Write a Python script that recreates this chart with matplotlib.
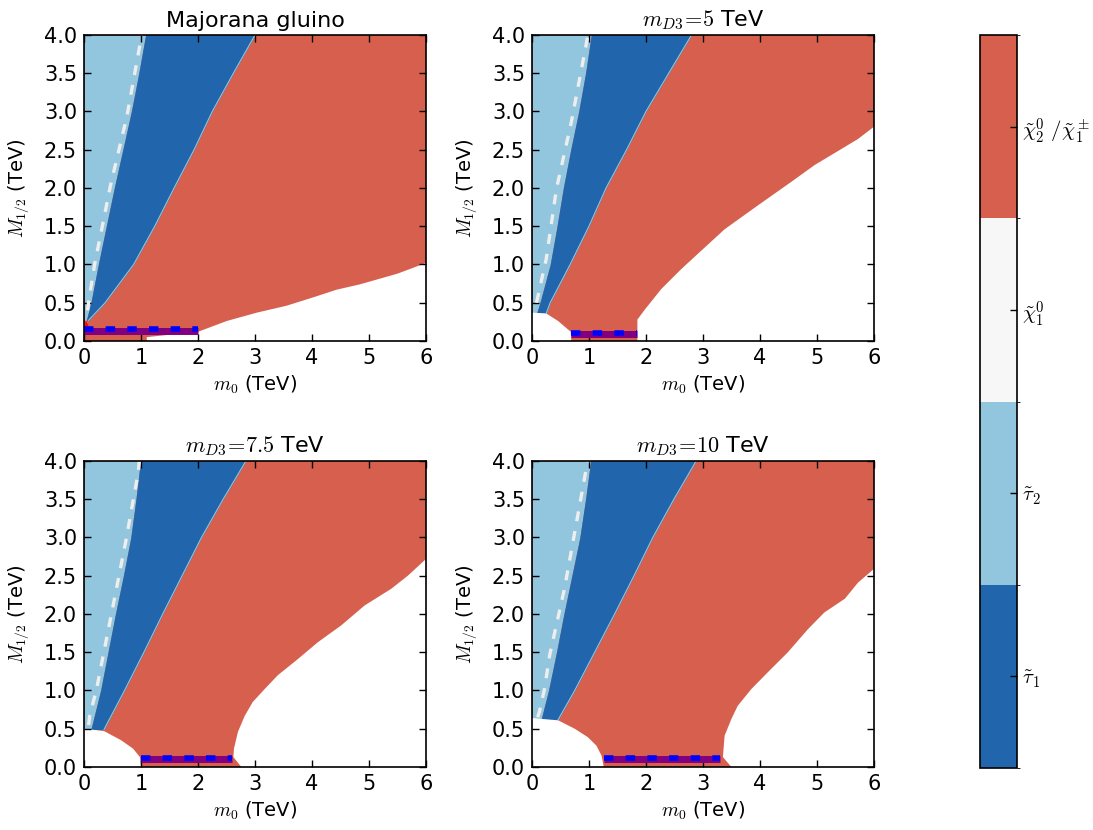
import numpy as np
import matplotlib
matplotlib.use("Agg")
import matplotlib.pyplot as plt
from matplotlib.colors import ListedColormap, BoundaryNorm
from matplotlib.cm import ScalarMappable

plt.rcParams["mathtext.fontset"] = "cm"
plt.rcParams["font.family"] = "DejaVu Sans"

# farger for LSP-kategoriene
c_red = "#d6604d"
c_white = "#f7f7f7"
c_lblue = "#92c5de"
c_dblue = "#2166ac"

titles = ["Majorana gluino", r"$m_{D3}\!=\!5$ TeV", r"$m_{D3}\!=\!7.5$ TeV", r"$m_{D3}\!=\!10$ TeV"]
cbar_labels = [r"$\tilde{\tau}_1$", r"$\tilde{\tau}_2$", r"$\tilde{\chi}_1^0$",
               r"$\tilde{\chi}_2^0\ /\tilde{\chi}_1^\pm$"]

# M_1/2 nivaaer for grensene mellom stau-omraadene (en liste per panel)
edge_y = [[0.27, 0.5, 1.0, 1.5, 2.0, 2.5, 3.0, 3.5, 4.0],
          [0.36, 0.5, 1.0, 1.5, 2.0, 2.5, 3.0, 3.5, 4.0],
          [0.49, 1.0, 1.5, 2.0, 2.5, 3.0, 3.5, 4.0],
          [0.62, 1.0, 1.5, 2.0, 2.5, 3.0, 3.5, 4.0]]
# m0 for grensen stau2 / stau1
stau_x = [[0.04, 0.12, 0.25, 0.39, 0.53, 0.68, 0.83, 0.96, 1.08],
          [0.08, 0.14, 0.32, 0.44, 0.55, 0.68, 0.82, 0.94, 1.04],
          [0.12, 0.29, 0.42, 0.55, 0.69, 0.82, 0.91, 0.99],
          [0.16, 0.29, 0.43, 0.56, 0.70, 0.84, 0.94, 1.03]]
# m0 for grensen stau1 / chi2
chi_x = [[0.08, 0.37, 0.87, 1.24, 1.58, 1.93, 2.25, 2.62, 3.0],
         [0.25, 0.32, 0.67, 1.00, 1.30, 1.66, 2.00, 2.40, 2.80],
         [0.35, 0.71, 1.05, 1.38, 1.72, 2.06, 2.44, 2.84],
         [0.46, 0.75, 1.10, 1.45, 1.79, 2.12, 2.49, 2.88]]

# hvit stiplet kontur
dash_y = [[0.40, 0.63, 1.02, 1.46, 2.02, 2.93, 3.87, 4.0],
          [0.50, 0.55, 1.07, 1.99, 2.86, 3.87, 4.0],
          [0.55, 0.67, 1.02, 2.00, 2.98, 3.85, 4.0],
          [0.65, 0.72, 1.02, 1.46, 2.33, 3.89, 4.0]]
dash_x = [[0.06, 0.105, 0.19, 0.31, 0.46, 0.75, 0.98, 1.01],
          [0.08, 0.094, 0.25, 0.43, 0.69, 0.95, 0.98],
          [0.08, 0.10, 0.22, 0.48, 0.74, 0.95, 0.97],
          [0.10, 0.13, 0.22, 0.31, 0.57, 0.95, 0.98]]

# hvitt omraade nede til venstre
ll_x = [[], [0.0, 0.25, 0.46, 0.68, 0.69],
        [0.0, 0.35, 0.65, 0.86, 0.98, 1.0],
        [0.0, 0.46, 0.75, 0.98, 1.13, 1.22, 1.26]]
ll_y = [[], [0.37, 0.36, 0.26, 0.12, 0.0],
        [0.50, 0.47, 0.35, 0.24, 0.13, 0.0],
        [0.64, 0.61, 0.50, 0.39, 0.28, 0.15, 0.0]]

# hvitt omraade nede til hoyre
lr_x = [[1.1, 1.1, 2.0, 2.5, 3.03, 3.55, 4.02, 4.43, 4.84, 5.5, 6.0],
        [1.85, 1.85, 1.98, 2.27, 2.62, 2.97, 3.38, 3.96, 4.55, 4.96, 5.43, 5.72, 6.0],
        [2.76, 2.62, 2.63, 2.70, 2.82, 2.96, 3.17, 3.40, 3.75, 4.10, 4.51, 4.92, 5.39, 5.68, 6.0],
        [3.50, 3.35, 3.38, 3.50, 3.61, 3.85, 4.14, 4.49, 4.84, 5.13, 5.49, 5.72, 6.0]]
lr_y = [[0.0, 0.05, 0.12, 0.26, 0.37, 0.46, 0.57, 0.67, 0.74, 0.88, 1.02],
        [0.0, 0.28, 0.41, 0.68, 0.94, 1.18, 1.46, 1.77, 2.08, 2.30, 2.51, 2.64, 2.80],
        [0.0, 0.13, 0.24, 0.46, 0.67, 0.85, 1.02, 1.20, 1.41, 1.63, 1.85, 2.11, 2.33, 2.50, 2.72],
        [0.0, 0.13, 0.41, 0.63, 0.80, 1.02, 1.24, 1.50, 1.80, 2.02, 2.20, 2.41, 2.59]]

# blaa stiplet linje / lilla baand
band_x0 = [0.0, 0.69, 1.0, 1.26]
band_x1 = [2.0, 1.85, 2.6, 3.3]
band_y = [0.15, 0.11, 0.12, 0.12]

# liten roed flekk i Majorana-panelet
spot_x = [0.0, 0.03, 0.12, 0.12, 0.0]
spot_y = [0.09, 0.27, 0.13, 0.08, 0.08]

rects = [[0.0769, 0.5892, 0.3129, 0.3687],
         [0.4867, 0.5892, 0.3129, 0.3687],
         [0.0769, 0.0759, 0.3129, 0.3687],
         [0.4867, 0.0759, 0.3129, 0.3687]]

fig = plt.figure(figsize=(10.93, 8.30), dpi=100)

for i in range(4):
    ax = fig.add_axes(rects[i])
    ax.set_facecolor(c_red)
    ax.fill_betweenx(edge_y[i], 0, stau_x[i], color=c_lblue, lw=0)
    ax.fill_betweenx(edge_y[i], stau_x[i], chi_x[i], color=c_dblue, lw=0)
    ax.plot(chi_x[i], edge_y[i], color=c_lblue, lw=0.8)
    ax.plot(dash_x[i], dash_y[i], color="#eeeeee", lw=2.4, dashes=(3, 3))
    if ll_x[i]:
        ax.fill([0.0] + ll_x[i], [0.0] + ll_y[i], color="white", lw=0)
    ax.fill(lr_x[i] + [6.0], lr_y[i] + [0.0], color="white", lw=0)
    if i == 0:
        ax.fill(spot_x, spot_y, color="red", lw=0)
    ax.plot([band_x0[i], band_x1[i]], [band_y[i] - 0.02] * 2, color="purple",
            lw=5, solid_capstyle="butt")
    ax.plot([band_x0[i], band_x1[i]], [band_y[i]] * 2, color="blue", lw=4,
            dashes=(1.7, 2.2))

    ax.set_xlim(0, 6)
    ax.set_ylim(0, 4)
    ax.set_xticks(np.arange(0, 7, 1))
    ax.set_yticks(np.arange(0, 4.01, 0.5))
    ax.set_yticklabels([f"{v:.1f}" for v in np.arange(0, 4.01, 0.5)])
    ax.tick_params(direction="in", top=True, right=True, length=5, width=1,
                   labelsize=15, pad=5)
    for s in ax.spines.values():
        s.set_linewidth(1.2)
    ax.set_title(titles[i], fontsize=16)
    ax.set_xlabel(r"$m_0$ (TeV)", fontsize=14)
    ax.set_ylabel(r"$M_{1/2}$ (TeV)", fontsize=14, labelpad=9)

# fargeskala
cmap = ListedColormap([c_dblue, c_lblue, c_white, c_red])
norm = BoundaryNorm([0, 1, 2, 3, 4], cmap.N)
cax = fig.add_axes([0.8966, 0.0747, 0.0339, 0.883])
cb = fig.colorbar(ScalarMappable(norm=norm, cmap=cmap), cax=cax,
                  ticks=[0.5, 1.5, 2.5, 3.5])
cb.set_ticklabels(cbar_labels)
cb.ax.tick_params(direction="in", length=5, width=1, labelsize=15)
cb.outline.set_linewidth(1.2)

fig.savefig("out.png", dpi=100)
